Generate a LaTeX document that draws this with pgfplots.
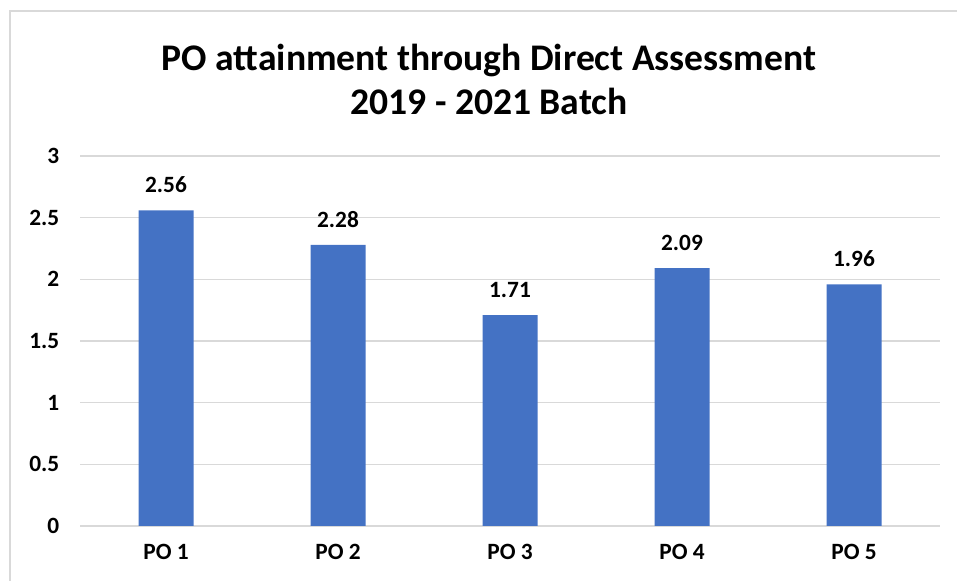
\documentclass[border=0pt]{standalone}
\usepackage{pgfplots}
\pgfplotsset{compat=1.18}
\usepackage{fontspec}
\setmainfont{Carlito}
\definecolor{barblue}{HTML}{4472C4}
\definecolor{gridgray}{HTML}{D9D9D9}
\begin{document}
\begin{tikzpicture}[x=0.75pt,y=0.75pt]
\useasboundingbox (0,0) rectangle (957,581);
\draw[gridgray, line width=1.2pt] (10,-20) -- (10,570) -- (980,570);
\node[align=center, font=\bfseries\fontsize{28.2}{33}\selectfont] at (489,502) {PO attainment through Direct Assessment\\2019 - 2021 Batch};
\begin{axis}[
  at={(60pt,41.25pt)}, anchor=south west,
  width=645pt, height=277.5pt, scale only axis,
  xmin=-0.5, xmax=4.5, ymin=0, ymax=3,
  ytick={0,0.5,1,1.5,2,2.5,3},
  xtick={0,1,2,3,4},
  xticklabels={PO 1,PO 2,PO 3,PO 4,PO 5},
  axis line style={draw=none},
  major tick length=0pt,
  ymajorgrids,
  grid style={gridgray, line width=0.9pt},
  /pgf/number format/assume math mode=true,
  tick label style={font=\bfseries\fontsize{17.5}{21}\selectfont},
  yticklabel style={xshift=-12pt},
  xticklabel style={yshift=-10pt},
  ybar, bar width=41.25pt,
  nodes near coords,
  every node near coord/.append style={font=\bfseries\fontsize{17.5}{21}\selectfont, yshift=9.5pt},
]
\addplot[fill=barblue, draw=none] coordinates {(0,2.56) (1,2.28) (2,1.71) (3,2.09) (4,1.96)};
\end{axis}
\end{tikzpicture}
\end{document}
